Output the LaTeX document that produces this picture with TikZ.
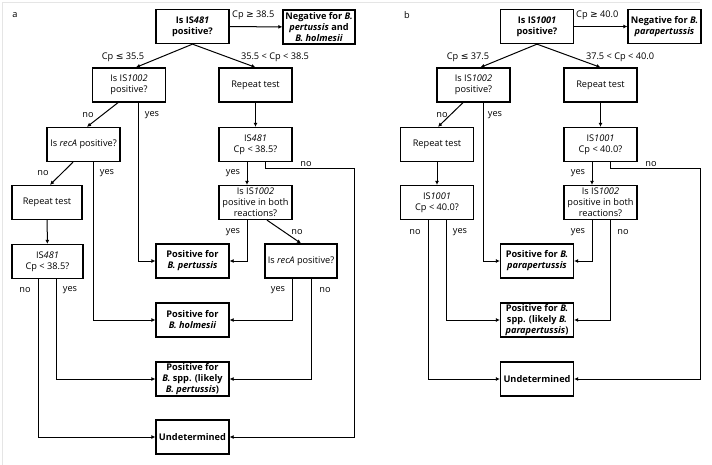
\documentclass[tikz,border=0pt]{standalone}
\usepackage{fontspec}
\setmainfont{Open Sans}
\newfontfamily\symfont{DejaVu Sans}
\newcommand{\lesym}{{\symfont\char"2264}}
\newcommand{\gesym}{{\symfont\char"2265}}
\usetikzlibrary{arrows.meta}

\begin{document}
\begin{tikzpicture}[x=1pt, y=-1pt,
    box/.style={draw, line width=1.3pt, minimum width=73pt, minimum height=34pt, align=center, inner sep=0.5pt, font=\fontsize{9.2}{11}\selectfont},
    bbox/.style={box, font=\fontsize{9.2}{11}\selectfont\bfseries},
    lbl/.style={inner sep=0pt, font=\fontsize{9.2}{11}\selectfont},
    arr/.style={-{Latex[length=4pt,width=4pt]}, line width=1pt}]
    \useasboundingbox (0,0) rectangle (712,465);
    \draw[gray!20] (2,465) -- (2,2) -- (700,2);

    % panel a
    \node[lbl] (ta) at (15,15) {a};
    \node[bbox] (isA) at (192.5,26.5) {Is IS\textit{481}\\positive?};
    \node[bbox, minimum width=72pt] (negA) at (319,27) {Negative for \textit{B.}\\\textit{pertussis} and\\\textit{B. holmesii}};
    \node[box] (ipA) at (129,85) {Is IS\textit{1002}\\positive?};
    \node[box] (repA) at (255.5,85) {Repeat test};
    \node[box] (recA) at (83.5,144.5) {Is \textit{recA} positive?};
    \node[box] (cpA) at (255.5,144.5) {IS\textit{481}\\Cp < 38.5?};
    \node[box, minimum width=70pt] (rep2A) at (47,202.5) {Repeat test};
    \node[box] (bothA) at (255.5,202.5) {Is IS\textit{1002}\\positive in both\\reactions?};
    \node[box, minimum width=71pt] (cp2A) at (47.5,261.5) {IS\textit{481}\\Cp < 38.5?};
    \node[bbox] (pertA) at (192.5,261) {Positive for\\\textit{B. pertussis}};
    \node[box, minimum width=72pt] (rec2A) at (301,261) {Is \textit{recA} positive?};
    \node[bbox] (holA) at (192.5,320) {Positive for\\\textit{B. holmesii}};
    \node[bbox] (sppA) at (192.5,379) {Positive for\\\textit{B.} spp. (likely\\\textit{B. pertussis})};
    \node[bbox] (undA) at (192.5,437) {Undetermined};
    \coordinate (cA) at (354,169);

    \draw[arr] (isA) -- (negA);
    \draw[arr] (isA.south) -- ([xshift=7pt]ipA.north);
    \draw[arr] (isA.south) -- (repA.north);
    \draw[arr] ([xshift=-11pt]ipA.south) -- ([xshift=3.5pt]recA.north);
    \draw[arr] ([xshift=9pt]ipA.south) |- (pertA.west);
    \draw[arr] (repA) -- (cpA);
    \draw[arr] ([xshift=-10.5pt]recA.south) -- ([xshift=3pt]rep2A.north);
    \draw[arr] ([xshift=9.5pt]recA.south) |- (holA.west);
    \draw[arr] (rep2A) -- (cp2A);
    \draw[arr] ([xshift=-9pt]cp2A.south) |- (undA.west);
    \draw[arr] ([xshift=9pt]cp2A.south) |- (sppA.west);
    \draw[arr] ([xshift=-8.5pt]cpA.south) -- ([xshift=-8.5pt]bothA.north);
    \draw[arr] ([xshift=9.5pt]cpA.south) |- (cA) |- (undA.east);
    \draw[arr] ([xshift=-8.5pt]bothA.south) |- (pertA.east);
    \draw[arr] ([xshift=11.5pt]bothA.south) -- (rec2A.north);
    \draw[arr] ([xshift=-9pt]rec2A.south) |- (holA.east);
    \draw[arr] ([xshift=10pt]rec2A.south) |- (sppA.east);

    \node[lbl, anchor=west] (la1) at (232,15) {Cp \gesym{} 38.5};
    \node[lbl] (la2) at (123,57) {Cp \lesym{} 35.5};
    \node[lbl] (la3) at (275,57) {35.5 < Cp < 38.5};
    \node[lbl] (la4) at (88,115) {no};
    \node[lbl] (la5) at (152,115) {yes};
    \node[lbl] (la6) at (43,173) {no};
    \node[lbl] (la7) at (107,173) {yes};
    \node[lbl] (la8) at (233,173) {yes};
    \node[lbl] (la9) at (306,164) {no};
    \node[lbl] (la10) at (233,232) {yes};
    \node[lbl] (la11) at (297,232) {no};
    \node[lbl] (la12) at (25,290) {no};
    \node[lbl] (la13) at (70,290) {yes};
    \node[lbl] (la14) at (278,290) {yes};
    \node[lbl] (la15) at (325,290) {no};

    % panel b
    \node[lbl] (tb) at (407,15) {b};
    \node[bbox] (isB) at (537,26.5) {Is IS\textit{1001}\\positive?};
    \node[bbox] (negB) at (664.5,26.5) {Negative for \textit{B.}\\\textit{parapertussis}};
    \node[box] (ipB) at (473.5,85) {Is IS\textit{1002}\\positive?};
    \node[box] (repB) at (600.5,85) {Repeat test};
    \node[box] (rep2B) at (437,144.5) {Repeat test};
    \node[box] (cpB) at (600.5,144.5) {IS\textit{1001}\\Cp < 40.0?};
    \node[box] (cp2B) at (437,202.5) {IS\textit{1001}\\Cp < 40.0?};
    \node[box] (bothB) at (600.5,202.5) {Is IS\textit{1002}\\positive in both\\reactions?};
    \node[bbox] (paraB) at (537,261) {Positive for \textit{B.}\\\textit{parapertussis}};
    \node[bbox] (sppB) at (537,320) {Positive for \textit{B.}\\spp. (likely \textit{B.}\\\textit{parapertussis})};
    \node[bbox] (undB) at (537,379) {Undetermined};
    \coordinate (cB) at (700,169);

    \draw[arr] (isB) -- (negB);
    \draw[arr] (isB.south) -- ([xshift=7pt]ipB.north);
    \draw[arr] (isB.south) -- (repB.north);
    \draw[arr] ([xshift=-10.5pt]ipB.south) -- ([xshift=1pt]rep2B.north);
    \draw[arr] ([xshift=9.5pt]ipB.south) |- (paraB.west);
    \draw[arr] (repB) -- (cpB);
    \draw[arr] (rep2B) -- (cp2B);
    \draw[arr] ([xshift=-9pt]cp2B.south) |- (undB.west);
    \draw[arr] ([xshift=9pt]cp2B.south) |- (sppB.west);
    \draw[arr] ([xshift=-8.5pt]cpB.south) -- ([xshift=-8.5pt]bothB.north);
    \draw[arr] ([xshift=9.5pt]cpB.south) |- (cB) |- (undB.east);
    \draw[arr] ([xshift=-8.5pt]bothB.south) |- (paraB.east);
    \draw[arr] ([xshift=9.5pt]bothB.south) |- (sppB.east);

    \node[lbl, anchor=west] (lb1) at (576,15) {Cp \gesym{} 40.0};
    \node[lbl] (lb2) at (468,57) {Cp \lesym{} 37.5};
    \node[lbl] (lb3) at (620,57) {37.5 < Cp < 40.0};
    \node[lbl] (lb4) at (442,115) {no};
    \node[lbl] (lb5) at (495,115) {yes};
    \node[lbl] (lb6) at (578,173) {yes};
    \node[lbl] (lb7) at (651,164) {no};
    \node[lbl] (lb8) at (415,232) {no};
    \node[lbl] (lb9) at (460,232) {yes};
    \node[lbl] (lb10) at (578,232) {yes};
    \node[lbl] (lb11) at (623,232) {no};
\end{tikzpicture}
\end{document}
